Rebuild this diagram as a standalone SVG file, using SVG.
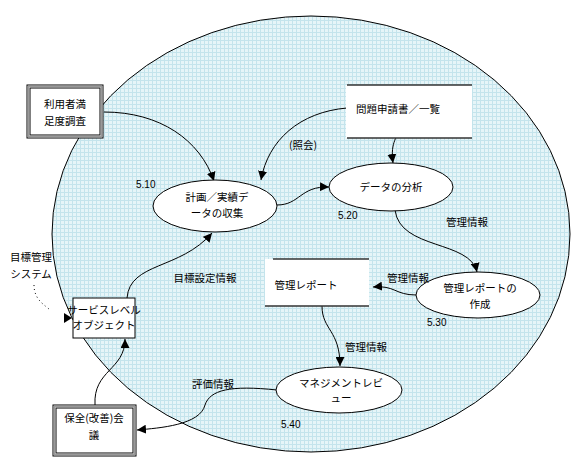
<svg xmlns="http://www.w3.org/2000/svg" width="580" height="470" viewBox="0 0 580 470">
<defs>
<pattern id="dots" width="4" height="4" patternUnits="userSpaceOnUse">
<rect width="4" height="4" fill="#e6f5f8"/>
<rect x="0" y="0" width="1" height="4" fill="#c4e4ec"/>
<rect x="0" y="0" width="4" height="1" fill="#c4e4ec"/>
</pattern>
<marker id="arr" viewBox="0 0 10 10" refX="10" refY="5" markerWidth="9" markerHeight="9" markerUnits="userSpaceOnUse" orient="auto">
<path d="M0,0 L10,5 L0,10 Z" fill="#000"/>
</marker>
</defs>
<style>
text{font-family:"Noto Sans CJK JP","Liberation Sans",sans-serif;font-size:10.5px;fill:#000}
.num{font-family:"Liberation Sans",sans-serif;font-size:10px}
.proc{fill:#fff;stroke:#000;stroke-width:1}
.box{fill:#fff;stroke:#000;stroke-width:1}
.store{fill:#fff;stroke:none}
.sl{stroke:#333;stroke-width:1.5}
.c{fill:none;stroke:#000;stroke-width:1;marker-end:url(#arr)}
</style>
<rect width="580" height="470" fill="#fff"/>
<g id="boundary">
<ellipse cx="311" cy="234" rx="259" ry="218" fill="url(#dots)" stroke="#000" stroke-width="1"/>
</g>
<g id="connectors">
<path class="c" d="M104,112 C160,112 200,140 214,181"/>
<path class="c" d="M347,108 C300,112 268,140 261,180"/>
<path class="c" d="M400,122 C398,140 390,140 393,163"/>
<path class="c" d="M277,205 C300,205 300,186 329,187"/>
<path class="c" d="M395,210 C400,250 470,240 477,272"/>
<path class="c" d="M416,295 C395,295 395,285 373,287"/>
<path class="c" d="M322,306 C322,330 340,330 340,366"/>
<path class="c" d="M127,298 C130,262 180,270 212,233"/>
<path class="c" d="M95,405 C93,370 125,370 125,339"/>
<path class="c" d="M277,390 C230,385 210,390 205,405 C200,425 160,428 137,430"/>
<path fill="none" stroke="#000" stroke-width="1" stroke-dasharray="1,3" d="M34,285 C34,300 45,305 50,310"/>
<path fill="#000" d="M64,313 L72,318 L64,323 Z"/>
</g>
<g id="n-survey">
<rect x="27" y="85" width="76" height="53" class="box" stroke-width="1"/>
<rect x="30" y="88" width="70" height="47" fill="none" stroke="#000" stroke-width="1"/>
<rect x="28.5" y="86.5" width="73" height="50" fill="none" stroke="#999" stroke-width="1.5"/>
<text x="65" y="108" text-anchor="middle">利用者満</text>
<text x="65" y="125" text-anchor="middle">足度調査</text>
</g>
<g id="n-problem">
<rect x="346" y="85" width="126" height="53" class="store"/>
<line x1="347" y1="85" x2="472" y2="85" class="sl"/>
<line x1="347" y1="138" x2="472" y2="138" class="sl"/>
<text x="398" y="113" text-anchor="middle">問題申請書／一覧</text>
</g>
<g id="n-collect">
<ellipse cx="215" cy="206" rx="62" ry="26" class="proc"/>
<text x="217" y="201" text-anchor="middle">計画／実績デ</text>
<text x="217" y="217" text-anchor="middle">ータの収集</text>
<text x="136" y="188" class="num">5.10</text>
</g>
<g id="n-analyze">
<ellipse cx="391" cy="187" rx="62" ry="24" class="proc"/>
<text x="391" y="191" text-anchor="middle">データの分析</text>
<text x="338" y="219" class="num">5.20</text>
</g>
<g id="n-makereport">
<ellipse cx="478" cy="295" rx="62" ry="23" class="proc"/>
<text x="480" y="292" text-anchor="middle">管理レポートの</text>
<text x="480" y="308" text-anchor="middle">作成</text>
<text x="427" y="326" class="num">5.30</text>
</g>
<g id="n-report">
<rect x="265" y="259" width="104" height="47" class="store"/>
<line x1="273" y1="259" x2="369" y2="259" class="sl"/>
<line x1="265" y1="306" x2="369" y2="306" class="sl"/>
<text x="306" y="289" text-anchor="middle">管理レポート</text>
</g>
<g id="n-review">
<ellipse cx="339" cy="390" rx="63" ry="23" class="proc"/>
<text x="341" y="387" text-anchor="middle">マネジメントレビ</text>
<text x="341" y="402" text-anchor="middle">ュー</text>
<text x="281" y="428" class="num">5.40</text>
</g>
<g id="n-slo">
<rect x="73" y="298" width="62" height="40" class="box"/>
<text x="104" y="314" text-anchor="middle">サービスレベル</text>
<text x="104" y="329" text-anchor="middle">オブジェクト</text>
</g>
<g id="n-meeting">
<rect x="53" y="405" width="83" height="51" class="box"/>
<rect x="56" y="408" width="77" height="45" fill="none" stroke="#000" stroke-width="1"/>
<rect x="54.5" y="406.5" width="80" height="48" fill="none" stroke="#999" stroke-width="1.5"/>
<text x="94" y="422" text-anchor="middle">保全(改善)会</text>
<text x="94" y="439" text-anchor="middle">議</text>
</g>
<g id="labels">
<text x="303" y="149" text-anchor="middle">(照会)</text>
<text x="467" y="226" text-anchor="middle">管理情報</text>
<text x="408" y="282" text-anchor="middle">管理情報</text>
<text x="366" y="351" text-anchor="middle">管理情報</text>
<text x="205" y="282" text-anchor="middle">目標設定情報</text>
<text x="213" y="388" text-anchor="middle">評価情報</text>
<text x="31" y="261" text-anchor="middle">目標管理</text>
<text x="31" y="278" text-anchor="middle">システム</text>
</g>
</svg>
